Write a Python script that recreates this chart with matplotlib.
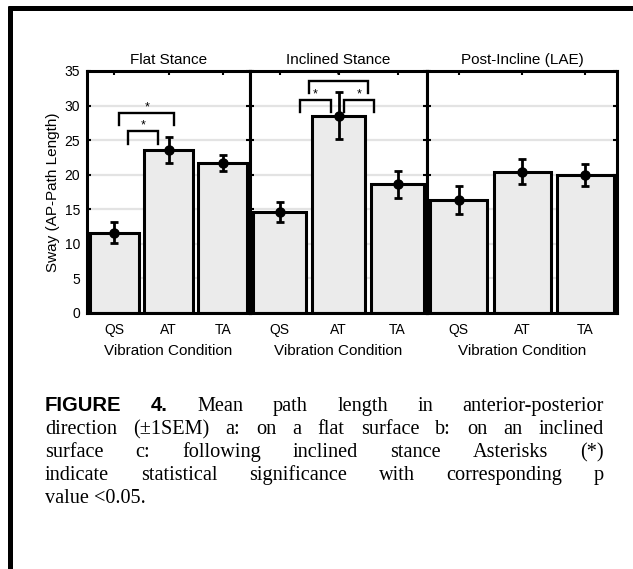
import matplotlib
matplotlib.use("Agg")
import matplotlib.pyplot as plt
from matplotlib.lines import Line2D

# ---------------- data ----------------
categories = ["QS", "AT", "TA"]
panel_titles = ["Flat Stance", "Inclined Stance", "Post-Incline (LAE)"]
flat_means = [11.6, 23.6, 21.7]
flat_sem = [1.5, 1.85, 1.2]
incl_means = [14.6, 28.5, 18.6]
incl_sem = [1.45, 3.4, 2.0]
post_means = [16.35, 20.45, 19.9]
post_sem = [2.05, 1.8, 1.6]
y_ticks = [0, 5, 10, 15, 20, 25, 30, 35]
# significance brackets: (x_start, x_end, y_bar, y_leg)
flat_brackets = [(1.25, 1.8, 26.3, 24.5), (1.09, 2.11, 28.9, 27.2)]
incl_brackets = [(1.34, 1.87, 30.8, 29.1), (2.1, 2.61, 30.8, 29.1), (1.5, 2.5, 33.5, 31.8)]
post_brackets = []

caption_lines = [
    ["FIGURE", "4.", "Mean", "path", "length", "in", "anterior-posterior"],
    ["direction", "(±1SEM)", "a:", "on", "a", "flat", "surface", "b:", "on", "an", "inclined"],
    ["surface", "c:", "following", "inclined", "stance", "Asterisks", "(*)"],
    ["indicate", "statistical", "significance", "with", "corresponding", "p"],
    ["value", "<0.05."],
]
bold_words = {(0, 0), (0, 1)}

# ---------------- figure ----------------
W, H = 633, 569
fig = plt.figure(figsize=(W / 100, H / 100), dpi=100)
plt.rcParams["font.family"] = ["Liberation Sans", "DejaVu Sans"]

def fx(px):
    return px / W

def fy(py):
    return 1 - py / H

panels = [
    (87, 250, flat_means, flat_sem, flat_brackets),
    (250, 427, incl_means, incl_sem, incl_brackets),
    (427, 617, post_means, post_sem, post_brackets),
]
top_px, bot_px = 71, 313
bar_color = "#ebebeb"
for i, (x0, x1, means, sems, brackets) in enumerate(panels):
    ax = fig.add_axes([fx(x0), fy(bot_px), fx(x1) - fx(x0), fy(top_px) - fy(bot_px)])
    xs = [1, 2, 3]
    ax.set_axisbelow(True)
    ax.yaxis.grid(True, color="#e3e3e3", linewidth=1.6)
    ax.bar(xs, means, width=0.9, color=bar_color, edgecolor="black", linewidth=2.2, zorder=2)
    ax.errorbar(xs, means, yerr=sems, fmt="o", color="black", markersize=6.5,
                elinewidth=2.0, capsize=2.8, capthick=2.0, zorder=3)
    for (a, b, yb, yl) in brackets:
        ax.plot([a, a, b, b], [yl, yb, yb, yl], color="black", linewidth=1.7,
                solid_joinstyle="miter", zorder=4)
        ax.text((a + b) / 2, yb + 0.85, "*", ha="center", va="center", fontsize=9, zorder=4)
    ax.set_xlim(0.5, 3.5)
    ax.set_ylim(0, 35)
    ax.set_xticks(xs)
    ax.set_xticklabels(categories, fontsize=10)
    ax.set_yticks(y_ticks)
    ax.tick_params(direction="in", length=3, width=1.5, top=True, right=True, pad=7)
    if i == 0:
        ax.set_yticklabels([str(t) for t in y_ticks], fontsize=10)
        ax.tick_params(axis="y", pad=5)
        ax.set_ylabel("Sway (AP-Path Length)", fontsize=11, labelpad=3)
    else:
        ax.set_yticklabels([])
    ax.set_xlabel("Vibration Condition", fontsize=11, labelpad=5)
    ax.set_title(panel_titles[i], fontsize=11, pad=5)
    for s in ax.spines.values():
        s.set_linewidth(2.2)

# frame lines
fig.add_artist(Line2D([fx(8), 1], [fy(7.5), fy(7.5)], transform=fig.transFigure,
                      color="black", linewidth=3.6, solid_capstyle="butt"))
fig.add_artist(Line2D([fx(9.5), fx(9.5)], [fy(5.5), 0], transform=fig.transFigure,
                      color="black", linewidth=3.6, solid_capstyle="butt"))

# ---------------- justified caption ----------------
renderer = fig.canvas.get_renderer()
left_px, right_px = 45, 604
first_base, line_gap = 411, 23.0
SERIF = ["Liberation Serif", "DejaVu Serif"]
SANS = ["Liberation Sans", "DejaVu Sans"]
cap_size = 14.6

def text_width(s, size, bold=False):
    t = fig.text(0, 0, s, fontsize=size, family=SANS if bold else SERIF,
                 weight="bold" if bold else "normal")
    w = t.get_window_extent(renderer).width
    t.remove()
    return w

space_w = text_width("a a", cap_size) - text_width("aa", cap_size)

for li, words in enumerate(caption_lines):
    texts = []
    for wi, w in enumerate(words):
        bold = (li, wi) in bold_words
        texts.append(fig.text(0, 0, w, fontsize=cap_size, family=SANS if bold else SERIF,
                              weight="bold" if bold else "normal", va="baseline", ha="left"))
    widths = [t.get_window_extent(renderer).width for t in texts]
    last = li == len(caption_lines) - 1
    if last:
        gap = space_w
    else:
        gap = (right_px - left_px - sum(widths)) / (len(words) - 1)
    x = left_px
    y = first_base + li * line_gap
    for t, w in zip(texts, widths):
        t.set_position((fx(x), fy(y)))
        x += w + gap

fig.savefig("out.png", dpi=100)
